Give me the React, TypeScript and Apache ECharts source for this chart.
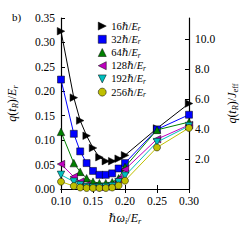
import React, { useEffect, useRef } from 'react';
import * as echarts from 'echarts';

const xVals = [0.10, 0.12, 0.13, 0.14, 0.15, 0.16, 0.17, 0.18, 0.19, 0.20, 0.25, 0.30];
const legendLabels = ['16', '32', '64', '128', '192', '256'];
const q16 = [0.323, 0.187, 0.140, 0.109, 0.084, 0.065, 0.057, 0.057, 0.062, 0.069, 0.124, 0.175];
const q32 = [0.224, 0.113, 0.077, 0.053, 0.037, 0.029, 0.029, 0.032, 0.042, 0.053, 0.122, 0.152];
const q64 = [0.117, 0.053, 0.035, 0.022, 0.015, 0.012, 0.012, 0.014, 0.022, 0.045, 0.121, 0.137];
const q128 = [0.051, 0.025, 0.015, 0.008, 0.005, 0.004, 0.005, 0.008, 0.020, 0.040, 0.102, 0.131];
const q192 = [0.029, 0.015, 0.008, 0.004, 0.003, 0.003, 0.004, 0.006, 0.014, 0.027, 0.096, 0.129];
const q256 = [0.015, 0.006, 0.003, 0.002, 0.002, 0.002, 0.002, 0.003, 0.007, 0.017, 0.085, 0.125];
const xTicks = [0.10, 0.15, 0.20, 0.25, 0.30];
const leftTicks = [0.00, 0.05, 0.10, 0.15, 0.20, 0.25, 0.30, 0.35];
const rightTicks = [2.0, 4.0, 6.0, 8.0, 10.0];

const FONT = '"Liberation Serif", "DejaVu Serif", serif';

const seriesData = [q16, q32, q64, q128, q192, q256];
const colors = ['#000000', '#0000ff', '#008000', '#bf00bf', '#00bfbf', '#bfbf00'];
const symbols = [
  'path://M0,0L10,5L0,10Z',
  'rect',
  'path://M5,0L10,10L0,10Z',
  'path://M10,0L0,5L10,10Z',
  'path://M0,0L10,0L5,10Z',
  'circle',
];
const symbolSizes = [7.5, 7, 7.5, 7.5, 7.5, 7];

function richBase(size: number, lh: number) {
  return {
    n: { fontFamily: FONT, fontSize: size, lineHeight: lh, color: '#000' },
    i: { fontFamily: FONT, fontSize: size, fontStyle: 'italic', lineHeight: lh, color: '#000' },
    s: { fontFamily: FONT, fontSize: size * 0.7, fontStyle: 'italic', lineHeight: lh * 0.45, verticalAlign: 'bottom', color: '#000' },
    sr: { fontFamily: FONT, fontSize: size * 0.7, lineHeight: lh * 0.45, verticalAlign: 'bottom', color: '#000' },
  };
}

export default function App() {
  const ref = useRef<HTMLDivElement>(null);
  useEffect(() => {
    if (!ref.current) return;
    const chart = echarts.init(ref.current, undefined, { renderer: 'svg' });
    const grid = { left: 61, right: 61, top: 18, bottom: 51 };
    const option: any = {
      animation: false,
      backgroundColor: '#ffffff',
      grid,
      xAxis: [
        {
          type: 'value', min: 0.1, max: 0.3, interval: 0.05, position: 'bottom',
          axisLine: { show: true, lineStyle: { color: '#000', width: 1.2 } },
          axisTick: { show: true, inside: true, length: 4, lineStyle: { color: '#000' } },
          axisLabel: {
            margin: 6, color: '#000', fontFamily: FONT, fontSize: 11.5,
            formatter: (v: number) => {
              const t = xTicks.find((k) => Math.abs(k - v) < 1e-6);
              return t === undefined ? '' : t.toFixed(2);
            },
          },
          splitLine: { show: false },
        },
        {
          type: 'value', min: 0.1, max: 0.3, interval: 0.05, position: 'top',
          axisLine: { show: true, lineStyle: { color: '#000', width: 1.2 } },
          axisTick: { show: true, inside: true, length: 4, lineStyle: { color: '#000' } },
          axisLabel: { show: false },
          splitLine: { show: false },
        },
      ],
      yAxis: [
        {
          type: 'value', min: 0, max: 0.35, interval: 0.05, position: 'left',
          axisLine: { show: true, lineStyle: { color: '#000', width: 1.2 } },
          axisTick: { show: true, inside: true, length: 4, lineStyle: { color: '#000' } },
          axisLabel: {
            margin: 6, color: '#000', fontFamily: FONT, fontSize: 11.5,
            formatter: (v: number) => {
              const t = leftTicks.find((k) => Math.abs(k - v) < 1e-6);
              return t === undefined ? '' : t.toFixed(2);
            },
          },
          splitLine: { show: false },
        },
        {
          type: 'value', min: 0, max: 11.4, interval: 2, position: 'right',
          axisLine: { show: true, lineStyle: { color: '#000', width: 1.2 } },
          axisTick: { show: true, inside: true, length: 4, lineStyle: { color: '#000' } },
          axisLabel: {
            margin: 6, color: '#000', fontFamily: FONT, fontSize: 11.5, showMaxLabel: false,
            formatter: (v: number) => {
              const t = rightTicks.find((k) => Math.abs(k - v) < 1e-6);
              return t === undefined ? '' : t.toFixed(1);
            },
          },
          splitLine: { show: false },
        },
      ],
      legend: {
        orient: 'vertical', left: 93, top: 15, itemWidth: 8, itemHeight: 8, itemGap: 1,
        data: legendLabels.map((l, k) => ({ name: l, icon: symbols[k] })),
        formatter: (name: string) => `{n|${name}}{i|ℏ}{n|/}{i|E}{s|r}`,
        textStyle: { fontFamily: FONT, fontSize: 10.5, lineHeight: 12.2, color: '#000', rich: richBase(10.5, 12.2) },
        itemStyle: { borderColor: '#000', borderWidth: 0.5 },
        lineStyle: { width: 0 },
        selectedMode: false,
      },
      series: seriesData.map((d, k) => ({
        name: legendLabels[k],
        type: 'line',
        xAxisIndex: 0,
        yAxisIndex: 0,
        data: xVals.map((x, j) => [x, d[j]]),
        symbol: symbols[k],
        symbolSize: symbolSizes[k],
        showAllSymbol: true,
        lineStyle: { color: colors[k], width: 1 },
        itemStyle: { color: colors[k], borderColor: '#000', borderWidth: 0.5 },
        clip: false,
        z: 2 + k,
      })),
      graphic: [
        { type: 'text', left: 12, top: 11, style: { text: 'b)', font: `11px ${FONT}`, fill: '#000' } },
        {
          type: 'text', x: 12, y: 103.5, rotation: Math.PI / 2,
          style: {
            text: '{i|q}{n|(}{i|t}{s|R}{n|)/}{i|E}{s|r}', align: 'center', verticalAlign: 'middle',
            rich: richBase(12, 14),
          },
        },
        {
          type: 'text', x: 232, y: 103.5, rotation: Math.PI / 2,
          style: {
            text: '{i|q}{n|(}{i|t}{s|R}{n|)/}{i|J}{sr|eff}', align: 'center', verticalAlign: 'middle',
            rich: richBase(12, 14),
          },
        },
        {
          type: 'text', x: 125, y: 218,
          style: {
            text: '{i|ℏω}{s|i}{n|/}{i|E}{s|r}', align: 'center', verticalAlign: 'middle',
            rich: richBase(12, 14),
          },
        },
      ],
    };
    chart.setOption(option);
    return () => chart.dispose();
  }, []);
  return <div ref={ref} style={{ position: 'absolute', left: 0, top: 0, width: 250, height: 240 }} />;
}
